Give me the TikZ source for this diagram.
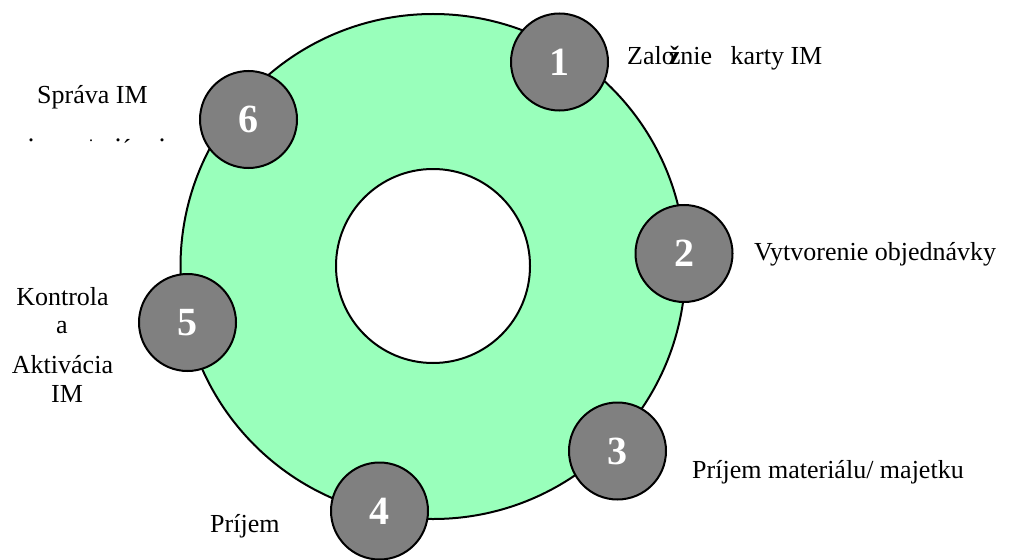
\documentclass[tikz,border=0pt]{standalone}
\usepackage{fontspec}
\setmainfont{Liberation Serif}
\definecolor{ringgreen}{RGB}{153,255,187}
\definecolor{stepgray}{RGB}{128,128,128}
\begin{document}
\begin{tikzpicture}[x=1pt,y=-1pt,
  ring/.style={circle,draw=black,line width=2pt,inner sep=0pt},
  num/.style={circle,draw=black,line width=2pt,fill=stepgray,minimum size=97pt,inner sep=0pt,text=white,font=\fontsize{40}{40}\selectfont\bfseries},
  lbl/.style={anchor=base west,inner sep=0pt,font=\fontsize{26}{26}\selectfont},
  lblc/.style={anchor=base,inner sep=0pt,font=\fontsize{26}{26}\selectfont},
  dotlbl/.style={anchor=base,inner sep=0pt,font=\fontsize{26}{26}\selectfont}]
\useasboundingbox (0,0) rectangle (1011,559);
% ring
\node[ring,fill=ringgreen,minimum size=505pt] (outer) at (433,266.5) {};
\node[ring,fill=white,minimum size=194pt] (inner) at (433,266) {};
% numbered circles
\node[num] (n1) at (559.5,62) {\raisebox{-3pt}{1}};
\node[num] (n2) at (684,253.5) {\raisebox{-3pt}{2}};
\node[num] (n3) at (617.5,451) {\raisebox{-3pt}{3}};
\node[num] (n4) at (379.5,511) {\raisebox{-3pt}{4}};
\node[num] (n5) at (187.5,322.5) {\raisebox{-3pt}{5}};
\node[num] (n6) at (248.5,119.5) {\raisebox{-3pt}{6}};
% labels
\node[lbl] (t1) at (627,65) {Zalo\kern-6pt\textbf{ž}nie\hspace{12pt} karty IM};
\node[lbl] (t2) at (754,260) {Vytvorenie objednávky};
\node[lbl] (t3) at (692,478) {Príjem materiálu/ majetku};
\node[lbl] (t4) at (210,532) {Príjem};
\node[lblc] (t5a) at (62.5,305) {Kontrola};
\node[lblc] (t5b) at (62,333) {a};
\node[lblc] (t5c) at (62.5,373) {Aktivácia};
\node[lblc] (t5d) at (67,402) {IM};
\node[lbl] (t6) at (37,103) {Správa IM};
% stray marks under "Správa IM"
\node[dotlbl] (d1) at (31,141) {.};
\node[dotlbl,font=\fontsize{16}{16}\selectfont] (d2) at (91,141) {.};
\node[dotlbl] (d3) at (118,141) {.};
\node[dotlbl] (d4) at (127,157) {´};
\node[dotlbl] (d5) at (162,141) {.};
\end{tikzpicture}
\end{document}
